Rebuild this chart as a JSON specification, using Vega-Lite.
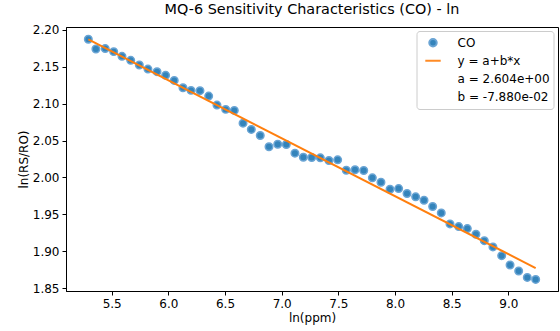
{
  "$schema": "https://vega.github.io/schema/vega-lite/v6.json",
  "width": 492,
  "height": 264,
  "autosize": {"type": "none"},
  "padding": {"left": 66, "top": 27, "right": 2, "bottom": 40},
  "title": {"text": "MQ-6 Sensitivity Characteristics (CO) - ln", "font": "DejaVu Sans", "fontSize": 14.4, "fontWeight": "normal", "color": "#000", "anchor": "middle", "offset": 6},
  "config": {
    "view": {"stroke": "#000", "strokeWidth": 1},
    "axis": {"labelFont": "DejaVu Sans", "titleFont": "DejaVu Sans", "labelFontSize": 12, "titleFontSize": 12, "titleFontWeight": "normal", "labelColor": "#000", "titleColor": "#000", "tickColor": "#000", "domainColor": "#000", "grid": false, "tickSize": 4, "labelPadding": 3}
  },
  "datasets": {
    "pts": [
      {"x": 5.294, "y": 2.1869, "series": "CO"},
      {"x": 5.361, "y": 2.1737, "series": "CO"},
      {"x": 5.443, "y": 2.1743, "series": "CO"},
      {"x": 5.518, "y": 2.1702, "series": "CO"},
      {"x": 5.591, "y": 2.1638, "series": "CO"},
      {"x": 5.668, "y": 2.1584, "series": "CO"},
      {"x": 5.744, "y": 2.1521, "series": "CO"},
      {"x": 5.820, "y": 2.1466, "series": "CO"},
      {"x": 5.900, "y": 2.1431, "series": "CO"},
      {"x": 5.976, "y": 2.1381, "series": "CO"},
      {"x": 6.052, "y": 2.1313, "series": "CO"},
      {"x": 6.129, "y": 2.1214, "series": "CO"},
      {"x": 6.200, "y": 2.1178, "series": "CO"},
      {"x": 6.279, "y": 2.1174, "series": "CO"},
      {"x": 6.356, "y": 2.1101, "series": "CO"},
      {"x": 6.429, "y": 2.0979, "series": "CO"},
      {"x": 6.506, "y": 2.0921, "series": "CO"},
      {"x": 6.582, "y": 2.0907, "series": "CO"},
      {"x": 6.659, "y": 2.0735, "series": "CO"},
      {"x": 6.732, "y": 2.0650, "series": "CO"},
      {"x": 6.811, "y": 2.0568, "series": "CO"},
      {"x": 6.888, "y": 2.0415, "series": "CO"},
      {"x": 6.965, "y": 2.0450, "series": "CO"},
      {"x": 7.041, "y": 2.0446, "series": "CO"},
      {"x": 7.117, "y": 2.0329, "series": "CO"},
      {"x": 7.191, "y": 2.0274, "series": "CO"},
      {"x": 7.265, "y": 2.0270, "series": "CO"},
      {"x": 7.341, "y": 2.0266, "series": "CO"},
      {"x": 7.417, "y": 2.0230, "series": "CO"},
      {"x": 7.494, "y": 2.0239, "series": "CO"},
      {"x": 7.570, "y": 2.0098, "series": "CO"},
      {"x": 7.647, "y": 2.0104, "series": "CO"},
      {"x": 7.724, "y": 2.0094, "series": "CO"},
      {"x": 7.800, "y": 1.9995, "series": "CO"},
      {"x": 7.876, "y": 1.9936, "series": "CO"},
      {"x": 7.956, "y": 1.9841, "series": "CO"},
      {"x": 8.032, "y": 1.9850, "series": "CO"},
      {"x": 8.106, "y": 1.9783, "series": "CO"},
      {"x": 8.182, "y": 1.9738, "series": "CO"},
      {"x": 8.256, "y": 1.9692, "series": "CO"},
      {"x": 8.332, "y": 1.9607, "series": "CO"},
      {"x": 8.408, "y": 1.9521, "series": "CO"},
      {"x": 8.485, "y": 1.9372, "series": "CO"},
      {"x": 8.562, "y": 1.9336, "series": "CO"},
      {"x": 8.638, "y": 1.9309, "series": "CO"},
      {"x": 8.714, "y": 1.9232, "series": "CO"},
      {"x": 8.788, "y": 1.9146, "series": "CO"},
      {"x": 8.864, "y": 1.9061, "series": "CO"},
      {"x": 8.941, "y": 1.8943, "series": "CO"},
      {"x": 9.015, "y": 1.8817, "series": "CO"},
      {"x": 9.091, "y": 1.8736, "series": "CO"},
      {"x": 9.167, "y": 1.8649, "series": "CO"},
      {"x": 9.241, "y": 1.8622, "series": "CO"}
    ],
    "fit": [
      {"x": 5.294, "y": 2.1868, "series": "y = a+b*x"},
      {"x": 9.241, "y": 1.8775, "series": "y = a+b*x"}
    ]
  },
  "layer": [
    {
      "data": {"name": "pts"},
      "mark": {"type": "point", "filled": true, "opacity": 0.9, "strokeWidth": 1.5, "clip": true},
      "encoding": {
        "x": {"field": "x", "type": "quantitative", "scale": {"domain": [5.097, 9.438], "nice": false, "zero": false}, "axis": {"title": "ln(ppm)", "values": [5.5, 6.0, 6.5, 7.0, 7.5, 8.0, 8.5, 9.0], "format": ".1f", "titlePadding": 3, "labelOverlap": false, "tickCount": 20}},
        "y": {"field": "y", "type": "quantitative", "scale": {"domain": [1.8465, 2.2035], "nice": false, "zero": false}, "axis": {"title": "ln(RS/RO)", "values": [1.85, 1.9, 1.95, 2.0, 2.05, 2.1, 2.15, 2.2], "format": ".2f", "titlePadding": 2, "labelOverlap": false, "tickCount": 20}},
        "color": {"field": "series", "type": "nominal", "scale": {"domain": ["CO", "y = a+b*x", "a = 2.604e+00", "b = -7.880e-02"], "range": ["#1f77b4", "#ff7f0e", "transparent", "transparent"]},
          "legend": {"title": null, "orient": "none", "legendX": 350.5, "legendY": 4, "padding": 3, "fillColor": "#fff", "strokeColor": "#cccccc", "cornerRadius": 3, "labelFont": "DejaVu Sans", "labelFontSize": 12, "labelColor": "#000", "rowPadding": 0, "clipHeight": 17.5, "labelOffset": 11, "labelLimit": 200, "symbolStrokeWidth": 2}},
        "stroke": {"field": "series", "type": "nominal", "scale": {"domain": ["CO", "y = a+b*x", "a = 2.604e+00", "b = -7.880e-02"], "range": ["#5a9bd0", "#ff7f0e", "transparent", "transparent"]}},
        "shape": {"field": "series", "type": "nominal", "scale": {"domain": ["CO", "y = a+b*x", "a = 2.604e+00", "b = -7.880e-02"], "range": ["circle", "stroke", "circle", "circle"]}},
        "size": {"field": "series", "type": "nominal", "scale": {"domain": ["CO", "y = a+b*x", "a = 2.604e+00", "b = -7.880e-02"], "range": [56, 600, 10, 10]}}
      }
    },
    {
      "data": {"name": "fit"},
      "mark": {"type": "line", "color": "#ff7f0e", "strokeWidth": 2, "clip": true},
      "encoding": {
        "x": {"field": "x", "type": "quantitative"},
        "y": {"field": "y", "type": "quantitative"}
      }
    }
  ]
}
